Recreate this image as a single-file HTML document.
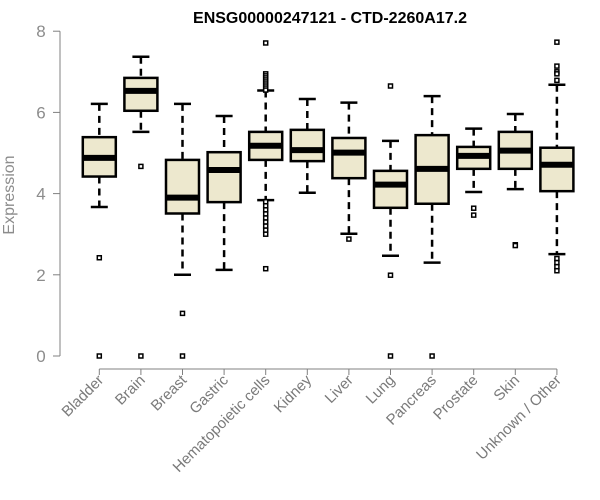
<!DOCTYPE html>
<html><head><meta charset="utf-8"><style>
body{margin:0;background:#fff;}
svg{display:block;font-family:"Liberation Sans",Arial,sans-serif;}
</style></head><body>
<svg id="chart" width="600" height="500">
<text x="330" y="23" text-anchor="middle" font-weight="bold" font-size="16" fill="#000">ENSG00000247121 - CTD-2260A17.2</text>
<text transform="translate(14,195) rotate(-90)" text-anchor="middle" font-size="16" fill="#8c8c8c">Expression</text>
<g id="yaxis"></g>
<g id="xaxis"></g>
<g id="boxes"></g>
</svg>
<script>
const categories=["Bladder","Brain","Breast","Gastric","Hematopoietic cells","Kidney","Liver","Lung","Pancreas","Prostate","Skin","Unknown / Other"];
const whiskerLow=[3.67,5.52,2.0,2.12,3.84,4.02,3.01,2.47,2.30,4.04,4.11,2.51];
const q1=[4.42,6.04,3.51,3.79,4.83,4.80,4.38,3.65,3.75,4.61,4.61,4.06];
const medians=[4.88,6.53,3.90,4.58,5.18,5.07,5.01,4.22,4.61,4.93,5.06,4.71];
const q3=[5.39,6.85,4.83,5.02,5.52,5.57,5.37,4.56,5.44,5.15,5.52,5.13];
const whiskerHigh=[6.21,7.37,6.21,5.91,6.54,6.33,6.24,5.30,6.40,5.60,5.96,6.68];
const outliers=[[2.42,0],[4.67,0],[1.05,0],[],[7.71,6.95,6.9,6.85,6.8,6.75,6.7,6.65,6.6,6.55,3.8,3.7,3.6,3.5,3.4,3.3,3.2,3.1,3.0,2.15],[],[2.88],[6.65,1.99,0],[0],[3.64,3.47],[2.74,2.72],[7.73,7.14,7.0,6.95,6.79,2.4,2.3,2.2,2.1]];
const yTicks=[0,2,4,6,8];
const NS="http://www.w3.org/2000/svg";
const x=i=>99.3+41.6*i;
const y=v=>356-40.6*v;
function mk(tag,attrs,parent){const e=document.createElementNS(NS,tag);for(const k in attrs)e.setAttribute(k,attrs[k]);parent.appendChild(e);return e;}
const ya=document.getElementById('yaxis'),xa=document.getElementById('xaxis'),bx=document.getElementById('boxes');
const ax=mk('line',{x1:60,x2:60,y1:y(8),y2:y(0),stroke:'#808080'},ya);


yTicks.forEach(t=>{
 const l=mk('line',{x1:53,x2:60,y1:y(t),y2:y(t),stroke:'#808080'},ya);
 
 
 const tx=mk('text',{x:41,y:y(t)+6,'text-anchor':'middle','font-size':17,fill:'#8c8c8c'},ya);
 
 
 tx.textContent=t;
});
const xl=mk('line',{x1:x(0),x2:x(categories.length-1),y1:369,y2:369,stroke:'#808080'},xa);


categories.forEach((c,i)=>{
 const cx=x(i);
 const t=mk('line',{x1:cx,x2:cx,y1:369,y2:375,stroke:'#808080'},xa);
 
 
 const lb=mk('text',{transform:`translate(${cx+5},${381}) rotate(-45)`,'text-anchor':'end','font-size':15,fill:'#7a7a7a'},xa);
 
 
 lb.textContent=c;
 const g=mk('g',{},bx);
 
 
 mk('line',{x1:cx,x2:cx,y1:y(whiskerHigh[i]),y2:y(q3[i]),stroke:'#000','stroke-width':2.5,'stroke-dasharray':'7,5'},g);
 mk('line',{x1:cx,x2:cx,y1:y(q1[i]),y2:y(whiskerLow[i]),stroke:'#000','stroke-width':2.5,'stroke-dasharray':'7,5'},g);
 mk('line',{x1:cx-8.5,x2:cx+8.5,y1:y(whiskerHigh[i]),y2:y(whiskerHigh[i]),stroke:'#000','stroke-width':2.5},g);
 mk('line',{x1:cx-8.5,x2:cx+8.5,y1:y(whiskerLow[i]),y2:y(whiskerLow[i]),stroke:'#000','stroke-width':2.5},g);
 mk('rect',{x:cx-16.5,y:y(q3[i]),width:33,height:y(q1[i])-y(q3[i]),fill:'#ede8ce',stroke:'#000','stroke-width':2.5},g);
 mk('line',{x1:cx-16.5,x2:cx+16.5,y1:y(medians[i]),y2:y(medians[i]),stroke:'#000','stroke-width':6},g);
 outliers[i].forEach(v=>{
  const o=mk('rect',{x:cx-2,y:y(v)-2,width:4,height:4,fill:'#fff',stroke:'#000','stroke-width':1.5},g);
  
  
 });
});
</script>
</body></html>
